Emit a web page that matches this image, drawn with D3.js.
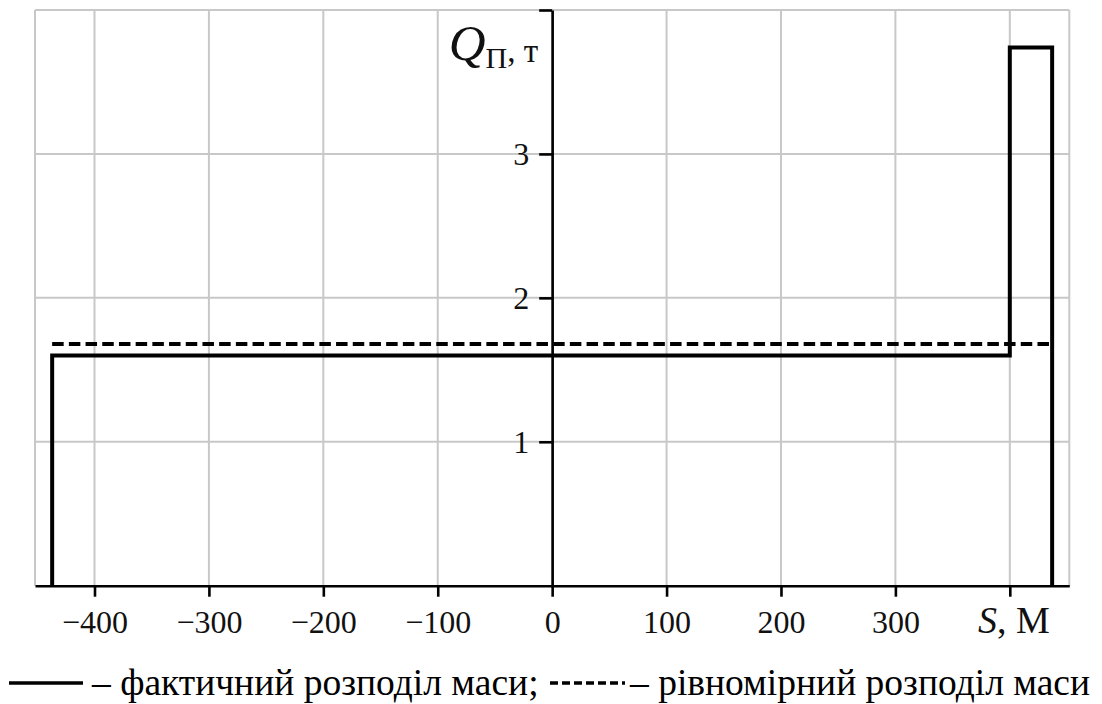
<!DOCTYPE html>
<html>
<head>
<meta charset="utf-8">
<script src="https://cdn.jsdelivr.net/npm/d3@7"></script>
<style>
  html, body { margin: 0; padding: 0; background: #fff; }
  svg { display: block; }
</style>
</head>
<body>
<script>
// ---- data ----
const actualS = [-437, -437, 400, 400, 437, 437];
const actualQ = [0, 1.6, 1.6, 3.74, 3.74, 0];
const uniformS = [-437, 437];
const uniformQ = [1.68, 1.68];
const xTicks = [-400, -300, -200, -100, 0, 100, 200, 300, 400];
const xTickLabels = ["\u2212400", "\u2212300", "\u2212200", "\u2212100", "0", "100", "200", "300", ""];
const yTicks = [1, 2, 3, 4];
const yTickLabels = ["1", "2", "3", ""];
const xDomain = [-452, 452];
const yDomain = [0, 4];
const legendLabels = ["\u2013 фактичний розподіл маси;", "\u2013 рівномірний розподіл маси"];

// ---- layout ----
const W = 1102, H = 704;
const serif = "'Liberation Serif', 'Times New Roman', serif";
const svg = d3.select("body").append("svg").attr("width", W).attr("height", H);
svg.append("rect").attr("width", W).attr("height", H).attr("fill", "#fff");

const x = d3.scaleLinear().domain(xDomain).range([35, 1069.3]);
const y = d3.scaleLinear().domain(yDomain).range([585.7, 10]);

// grid
const grid = svg.append("g").attr("stroke", "#c8c8c8").attr("stroke-width", 2);
grid.selectAll("line.v").data(xTicks.concat(xDomain)).join("line")
  .attr("x1", d => x(d)).attr("x2", d => x(d))
  .attr("y1", y(0)).attr("y2", y(yDomain[1]));
grid.selectAll("line.h").data(yTicks).join("line")
  .attr("x1", x(xDomain[0])).attr("x2", x(xDomain[1]))
  .attr("y1", d => y(d)).attr("y2", d => y(d));

// axes
const xAxis = d3.axisBottom(x).tickValues(xTicks).tickSize(11).tickSizeOuter(0).tickPadding(14)
  .tickFormat((d, i) => xTickLabels[i]);
const gx = svg.append("g").attr("transform", `translate(0,${y(0)})`).call(xAxis);
const yAxis = d3.axisLeft(y).tickValues(yTicks).tickSize(13).tickSizeOuter(0).tickPadding(10)
  .tickFormat((d, i) => yTickLabels[i]);
const gy = svg.append("g").attr("transform", `translate(${x(0)},0)`).call(yAxis);
[gx, gy].forEach(g => {
  g.select(".domain").attr("stroke", "#000").attr("stroke-width", 2.6);
  g.selectAll(".tick line").attr("stroke", "#000").attr("stroke-width", 2.6);
  g.selectAll(".tick text").attr("fill", "#111").style("font-family", serif).style("font-size", "32px");
});

// data lines
const line = d3.line().x(d => x(d[0])).y(d => y(d[1]));
svg.append("path").datum(uniformS.map((s, i) => [s, uniformQ[i]]))
  .attr("d", line).attr("fill", "none").attr("stroke", "#000")
  .attr("stroke-width", 4).attr("stroke-dasharray", "11.5,5.2");
svg.append("path").datum(actualS.map((s, i) => [s, actualQ[i]]))
  .attr("d", line).attr("fill", "none").attr("stroke", "#000")
  .attr("stroke-width", 4).attr("stroke-linejoin", "miter");

// axis labels
const xl = svg.append("text").attr("x", x(400) + 4).attr("y", 633)
  .attr("text-anchor", "middle").style("font-family", serif).style("font-size", "38px").attr("fill", "#111");
xl.append("tspan").attr("font-style", "italic").text("S");
xl.append("tspan").text(", М");

const yl = svg.append("text").attr("x", x(0) - 14).attr("y", 60)
  .attr("text-anchor", "end").style("font-family", serif).attr("fill", "#111");
yl.append("tspan").attr("font-style", "italic").style("font-size", "51px").text("Q");
yl.append("tspan").style("font-size", "30px").attr("dy", 8).text("П");
yl.append("tspan").style("font-size", "33px").attr("dy", -6).text(", т");

// legend
svg.append("line").attr("x1", 9).attr("x2", 83).attr("y1", 683).attr("y2", 683)
  .attr("stroke", "#000").attr("stroke-width", 3.5);
svg.append("text").attr("x", 92).attr("y", 695).style("font-family", serif).style("font-size", "37.5px")
  .attr("fill", "#000").text(legendLabels[0]);
svg.append("line").attr("x1", 550).attr("x2", 625).attr("y1", 683).attr("y2", 683)
  .attr("stroke", "#000").attr("stroke-width", 3.5).attr("stroke-dasharray", "8,4");
svg.append("text").attr("x", 630).attr("y", 695).style("font-family", serif).style("font-size", "37.5px")
  .attr("fill", "#000").text(legendLabels[1]);
</script>
</body>
</html>
